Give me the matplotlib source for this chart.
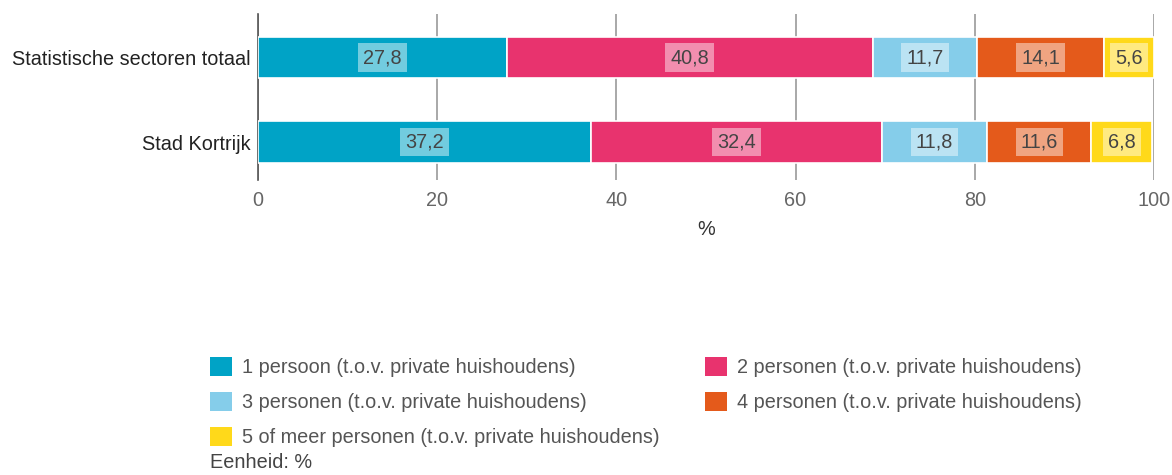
import numpy as np
import matplotlib.pyplot as plt
from matplotlib.patches import Patch

plt.rcParams['font.family'] = ['Liberation Sans', 'DejaVu Sans']

# data
categories = ['Stad Kortrijk', 'Statistische sectoren totaal']
series_names = ['1 persoon (t.o.v. private huishoudens)',
                '2 personen (t.o.v. private huishoudens)',
                '3 personen (t.o.v. private huishoudens)',
                '4 personen (t.o.v. private huishoudens)',
                '5 of meer personen (t.o.v. private huishoudens)']
p1 = [37.2, 27.8]
p2 = [32.4, 40.8]
p3 = [11.8, 11.7]
p4 = [11.6, 14.1]
p5 = [6.8, 5.6]
colors = ['#00a3c6', '#e8336e', '#85cdea', '#e45a1b', '#ffd91a']

fs = 14.3
fig = plt.figure(figsize=(11.72, 4.75), dpi=100)
ax = fig.add_axes([0.2201, 0.621, 0.7645, 0.3495])

txtcol = '#444444'
y = np.arange(len(categories))
left = np.zeros(len(categories))
for vals, col in zip([p1, p2, p3, p4, p5], colors):
    vals = np.array(vals)
    ax.barh(y, vals, left=left, height=0.49, color=col,
            edgecolor='white', linewidth=1.2, zorder=3)
    for yi, l, v in zip(y, left, vals):
        ax.text(l + v / 2, yi, f'{v:.1f}'.replace('.', ','), ha='center', va='center',
                fontsize=fs, color=txtcol, zorder=4,
                bbox=dict(boxstyle='square,pad=0.25', facecolor='white',
                          edgecolor='none', alpha=0.45))
    left = left + vals

ax.set_xlim(0, 100)
ax.set_ylim(-0.45, 1.515)
ax.set_yticks(y)
ax.set_yticklabels(categories, fontsize=fs, color='#222222')
ax.set_xticks([0, 20, 40, 60, 80, 100])
ax.set_xticklabels(['0', '20', '40', '60', '80', '100'], fontsize=fs, color='#666666')
ax.tick_params(axis='both', length=0, pad=5)
ax.tick_params(axis='x', pad=8)
ax.grid(axis='x', color='#999999', linewidth=1.2, zorder=0)
for s in ['top', 'right', 'bottom']:
    ax.spines[s].set_visible(False)
ax.spines['left'].set_color('#555555')
ax.spines['left'].set_linewidth(1.2)
ax.set_xlabel('%', fontsize=fs, color='#333333', labelpad=7)

order = [0, 2, 4, 1, 3]
handles = [Patch(facecolor=colors[i], edgecolor='none') for i in order]
labels = [series_names[i] for i in order]
fig.legend(handles, labels, loc='upper left', bbox_to_anchor=(0.179, 0.248),
           ncol=2, frameon=False, fontsize=fs, labelcolor='#555555',
           handlelength=1.1, handleheight=1.1, handletextpad=0.5,
           labelspacing=0.74, columnspacing=2.3, borderaxespad=0, borderpad=0)
fig.text(0.179, 0.006, 'Eenheid: %', fontsize=fs, color='#444444', va='bottom')

fig.savefig('out.png', dpi=100)
